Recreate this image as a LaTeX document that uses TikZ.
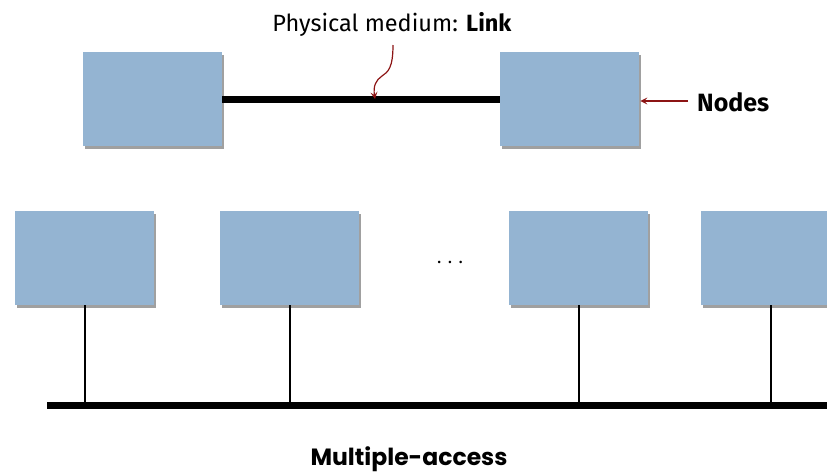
\documentclass[tikz,border=0pt]{standalone}
\usepackage{fontspec}
\setmainfont{Fira Sans}
\newfontfamily\headfont{Poppins}
\usetikzlibrary{shadows,arrows.meta}
\definecolor{boxblue}{RGB}{148,180,210}
\definecolor{notered}{RGB}{140,20,20}
\tikzset{
  hostbox/.style={rectangle, fill=boxblue, minimum width=139pt, minimum height=94pt,
    inner sep=0pt, anchor=north west,
    drop shadow={shadow xshift=1.6pt, shadow yshift=-2.6pt, fill=black!50, opacity=.75}},
  medium/.style={line width=7pt},
  drop/.style={line width=1.6pt},
  note/.style={notered, line width=1.2pt, -{Stealth[length=7pt,width=7pt,inset=3pt]}}
}
\begin{document}
\begin{tikzpicture}[x=1pt,y=-1pt]
\useasboundingbox (0,0) rectangle (827,475);

% point-to-point link
\node[hostbox] (A) at (83,52) {};
\node[hostbox] (B) at (500,52) {};
\draw[medium] (A.east) -- (B.west);
\node[font=\fontsize{23.5}{26}\selectfont] (linklbl) at (392,24) {Physical medium: \textbf{Link}};
\coordinate (linktip) at (375,99);
\draw[note] (393,45) .. controls (393,68) and (388,72) .. (382,76)
  .. controls (376,80) and (373,86) .. (linktip);
\node[font=\fontsize{25}{28}\selectfont\bfseries, anchor=west, inner sep=0pt] (nodeslbl) at (697,102) {Nodes};
\coordinate (nstart) at (688,101);
\draw[note] (nstart) -- ([xshift=1pt]B.east |- nstart);

% shared bus
\node[hostbox] (h1) at (15,211) {};
\node[hostbox] (h2) at (220,211) {};
\node[hostbox] (h3) at (509,211) {};
\node[hostbox] (h4) at (701,211) {};
\node[font=\fontsize{18}{20}\selectfont] (dots) at (450,262) {. . .};
\coordinate (busL) at (47,405);
\coordinate (busR) at (830,405);
\draw[medium] (busL) -- (busR);
\foreach \h in {h1,h2,h3,h4}
  \draw[drop] (\h.south) -- (\h.south |- busL);
\node[font=\headfont\fontsize{23.5}{26}\selectfont\bfseries] (mlbl) at (409,459) {Multiple-access};
\end{tikzpicture}
\end{document}
